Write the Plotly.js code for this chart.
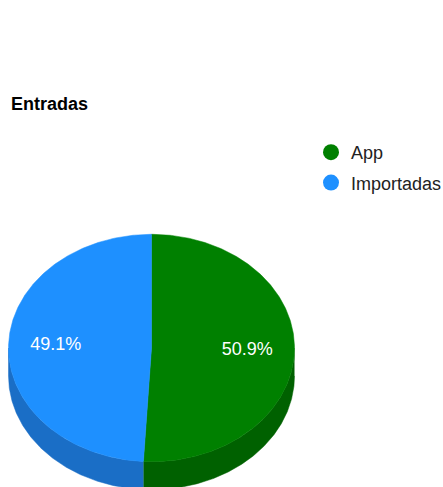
<!DOCTYPE html>
<html>
<head>
<meta charset="utf-8">
<script src="https://cdn.plot.ly/plotly-3.0.1.min.js"></script>
<style>html,body{margin:0;padding:0;background:#fff;overflow:hidden;}#chart{width:443px;height:487px;}</style>
</head>
<body>
<div id="chart"></div>
<script>
// ---- data ----
const categories = ['App', 'Importadas'];
const values = [50.9, 49.1];
const chartTitle = 'Entradas';

// ---- style ----
const topColors = ['#008000', '#1E90FF'];
const sideColors = ['#006100', '#1a6ec6'];
const FONT = 'Arial, "Liberation Sans", sans-serif';
const DEPTH = 0.246;      // pie thickness in radius units (vertical)
const LABEL_R = 0.67;     // label distance from centre in radius units
const STEP = 0.5;         // degrees between polygon vertices

const total = values.reduce((a, b) => a + b, 0);
function P(deg, drop) {
  const r = deg * Math.PI / 180;
  return [Math.sin(r), Math.cos(r) - drop];
}
function arc(a1, a2, drop) {
  const xs = [], ys = [];
  const n = Math.max(2, Math.ceil(Math.abs(a2 - a1) / STEP));
  for (let i = 0; i <= n; i++) {
    const p = P(a1 + (a2 - a1) * i / n, drop);
    xs.push(p[0]); ys.push(p[1]);
  }
  return [xs, ys];
}

const traces = [];
const topTraces = [];
const labelTraces = [];
let start = 0;
values.forEach((v, i) => {
  const sweep = v / total * 360;
  const a1 = start, a2 = start + sweep;
  // visible side (front half: 90..270 deg clockwise from top)
  const s1 = Math.max(a1, 90), s2 = Math.min(a2, 270);
  if (s2 > s1) {
    const t = arc(s1, s2, 0), b = arc(s2, s1, DEPTH);
    traces.push({
      type: 'scatter', mode: 'lines', fill: 'toself',
      x: t[0].concat(b[0]), y: t[1].concat(b[1]),
      fillcolor: sideColors[i], line: {color: sideColors[i], width: 0.5},
      hoverinfo: 'skip', showlegend: false
    });
  }
  // top face wedge
  const w = arc(a1, a2, 0);
  topTraces.push({
    type: 'scatter', mode: 'lines', fill: 'toself',
    x: [0].concat(w[0], [0]), y: [0].concat(w[1], [0]),
    fillcolor: topColors[i], line: {color: topColors[i], width: 0.5},
    hoverinfo: 'skip', showlegend: false
  });
  // percentage label
  const mid = P((a1 + a2) / 2, 0);
  labelTraces.push({
    type: 'scatter', mode: 'text',
    x: [mid[0] * LABEL_R], y: [mid[1] * LABEL_R],
    text: [(v / total * 100).toFixed(1) + '%'],
    textposition: 'middle center',
    textfont: {family: FONT, size: 18, color: '#ffffff'},
    hoverinfo: 'skip', showlegend: false
  });
  start = a2;
});

const legendTraces = categories.map((c, i) => ({
  type: 'scatter', mode: 'markers', x: [null], y: [null], name: c,
  marker: {symbol: 'circle', size: 18, color: topColors[i]},
  showlegend: true, legendgroup: c, hoverinfo: 'skip'
}));

const data = traces.concat(topTraces, labelTraces, legendTraces);

const layout = {
  width: 443, height: 487,
  margin: {l: 0, r: 0, t: 0, b: 0, pad: 0, autoexpand: false},
  paper_bgcolor: '#ffffff', plot_bgcolor: 'rgba(0,0,0,0)',
  font: {family: FONT, size: 18, color: '#222222'},
  title: {
    text: '<b>' + chartTitle + '</b>',
    font: {family: FONT, size: 18, color: '#000000'},
    xref: 'paper', x: 11 / 443, xanchor: 'left',
    yref: 'container', y: 1 - 104 / 487, yanchor: 'middle'
  },
  xaxis: {visible: false, range: [-151.5 / 143, (443 - 151.5) / 143], fixedrange: true},
  yaxis: {visible: false, range: [-(487 - 348) / 113.7, 348 / 113.7], fixedrange: true},
  showlegend: true,
  legend: {
    x: 311 / 443, xanchor: 'left', y: 1 - 134 / 487, yanchor: 'top',
    font: {family: FONT, size: 18, color: '#222222'},
    traceorder: 'grouped', tracegroupgap: 4, bgcolor: 'rgba(0,0,0,0)',
    itemclick: false, itemdoubleclick: false
  },
  hovermode: false
};

Plotly.newPlot('chart', data, layout, {staticPlot: true, displayModeBar: false});
</script>
</body>
</html>
